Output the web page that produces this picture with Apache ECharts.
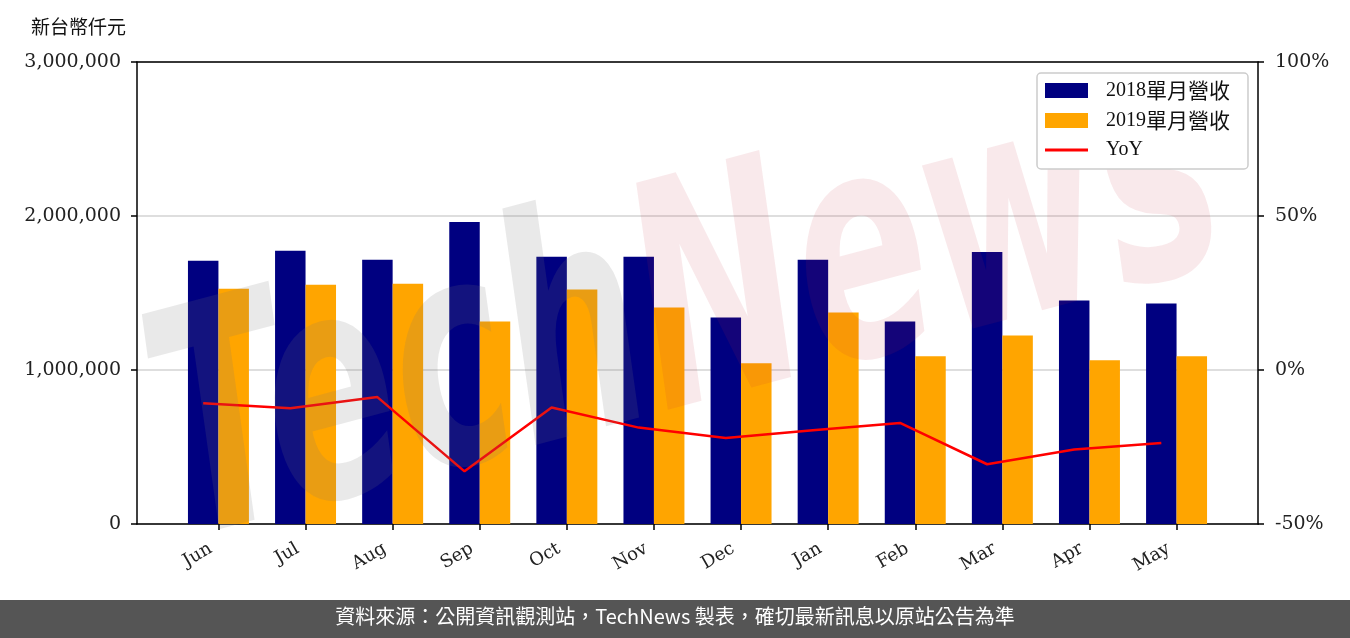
<!DOCTYPE html>
<html>
<head>
<meta charset="utf-8">
<script src="https://cdn.jsdelivr.net/npm/echarts@6/dist/echarts.min.js"></script>
<style>
html,body{margin:0;padding:0;background:#fff;}
#chart{width:1350px;height:638px;}
</style>
</head>
<body>
<div id="chart"></div>
<script>
// ---- data ----
var months = ['Jun','Jul','Aug','Sep','Oct','Nov','Dec','Jan','Feb','Mar','Apr','May'];
var rev2018 = [1709000, 1774000, 1716000, 1961000, 1735000, 1735000, 1341000, 1716000, 1315000, 1767000, 1451000, 1432000];
var rev2019 = [1528000, 1554000, 1560000, 1315000, 1522000, 1406000, 1044000, 1373000, 1089000, 1224000, 1063000, 1089000];
var yoy = [-10.8, -12.4, -8.8, -32.9, -12.2, -18.7, -22.1, -19.6, -17.2, -30.6, -25.8, -23.7];
var seriesNames = ['2018單月營收', '2019單月營收', 'YoY'];
var unitLabel = '新台幣仟元';
var footerText = '資料來源：公開資訊觀測站，TechNews 製表，確切最新訊息以原站公告為準';

var BW = 0.35;
var chart = echarts.init(document.getElementById('chart'), null, {renderer: 'canvas'});

function barRender(offset, color) {
  return function (params, api) {
    var x = api.value(0), v = api.value(1);
    var p0 = api.coord([x + offset - BW / 2, v]);
    var p1 = api.coord([x + offset + BW / 2, 0]);
    return {
      type: 'rect',
      shape: {x: p0[0], y: p0[1], width: p1[0] - p0[0], height: p1[1] - p0[1]},
      style: {fill: color}
    };
  };
}

var idx = months.map(function (m, i) { return i; });
var serif = 'DejaVu Serif';

var option = {
  animation: false,
  backgroundColor: '#fff',
  grid: {left: 137, right: 92, top: 62, bottom: 114, show: false},
  xAxis: [
    {
      type: 'value', min: -0.935, max: 11.935, position: 'bottom',
      axisLine: {show: true, onZero: false, lineStyle: {color: '#000', width: 1.5}},
      axisTick: {show: true, length: 6, lineStyle: {color: '#000', width: 1.5}, customValues: idx},
      axisLabel: {show: true, customValues: idx, rotate: 30, margin: 19, padding: [0, 9, 0, 0], color: '#222', fontFamily: serif, fontSize: 18,
        formatter: function (v) { return months[Math.round(v)]; }},
      splitLine: {show: false}
    },
    {
      type: 'value', min: -0.935, max: 11.935, position: 'top',
      axisLine: {show: true, onZero: false, lineStyle: {color: '#000', width: 1.5}},
      axisTick: {show: false}, axisLabel: {show: false}, splitLine: {show: false}
    }
  ],
  yAxis: [
    {
      type: 'value', min: 0, max: 3000000, interval: 1000000, position: 'left',
      axisLine: {show: true, onZero: false, lineStyle: {color: '#000', width: 1.5}},
      axisTick: {show: true, length: 6, lineStyle: {color: '#000', width: 1.5}},
      axisLabel: {margin: 16, color: '#222', fontFamily: serif, fontSize: 19,
        formatter: function (v) { return v.toString().replace(/\B(?=(\d{3})+(?!\d))/g, ','); }},
      splitLine: {show: true, lineStyle: {color: '#d3d3d3', width: 1.5}}
    },
    {
      type: 'value', min: -50, max: 100, interval: 50, position: 'right',
      axisLine: {show: true, onZero: false, lineStyle: {color: '#000', width: 1.5}},
      axisTick: {show: true, length: 6, lineStyle: {color: '#000', width: 1.5}},
      axisLabel: {margin: 17, color: '#222', fontFamily: serif, fontSize: 19,
        formatter: function (v) { return v + '%'; }},
      splitLine: {show: false}
    }
  ],
  legend: {
    orient: 'vertical', left: 1037, top: 73, z: 80,
    padding: [7, 18, 9, 8],
    itemWidth: 43, itemHeight: 15, itemGap: 9,
    backgroundColor: '#fff', borderColor: '#cccccc', borderWidth: 1.5, borderRadius: 4,
    formatter: function (name) {
      var m = name.match(/^(\d+)(.*)$/);
      if (m) return '{d|' + m[1] + '}{c|' + m[2] + '}';
      return '{d|' + name + '}';
    },
    textStyle: {
      padding: [0, 0, 0, 13], color: '#111',
      rich: {
        d: {fontFamily: 'Liberation Serif', fontSize: 20, color: '#111'},
        c: {fontFamily: 'Noto Sans CJK TC', fontSize: 21, color: '#111'}
      }
    },
    data: [
      {name: seriesNames[0], icon: 'rect'},
      {name: seriesNames[1], icon: 'rect'},
      {name: seriesNames[2], icon: 'path://M0,0 L0.01,0 M0,6 L43,6 L43,9 L0,9 Z M0,15 L0.01,15'}
    ]
  },
  series: [
    {
      name: seriesNames[0], type: 'custom', xAxisIndex: 0, yAxisIndex: 0,
      itemStyle: {color: '#000080'},
      renderItem: barRender(-BW / 2, '#000080'),
      encode: {x: 0, y: 1},
      data: rev2018.map(function (v, i) { return [i, v]; }),
      z: 2
    },
    {
      name: seriesNames[1], type: 'custom', xAxisIndex: 0, yAxisIndex: 0,
      itemStyle: {color: '#ffa500'},
      renderItem: barRender(BW / 2, '#ffa500'),
      encode: {x: 0, y: 1},
      data: rev2019.map(function (v, i) { return [i, v]; }),
      z: 2
    },
    {
      name: seriesNames[2], type: 'line', xAxisIndex: 0, yAxisIndex: 1,
      symbol: 'none', showSymbol: false,
      itemStyle: {color: '#ff0000'},
      lineStyle: {color: '#ff0000', width: 2.5},
      data: yoy.map(function (v, i) { return [i - BW / 2, v]; }),
      z: 3
    }
  ],
  graphic: [
    {
      type: 'group', x: 690, y: 320, rotation: 0.26, z: 50, silent: true,
      children: [{
        type: 'text', scaleY: 1.6, z: 50, silent: true,
        style: {
          text: '{a|Tech}{b|News}',
          x: 0, y: 0, align: 'center', verticalAlign: 'middle',
          rich: {
            a: {fontFamily: 'DejaVu Sans', fontStyle: 'italic', fontWeight: 'bold', fontSize: 195, fill: 'rgba(120,120,120,0.16)'},
            b: {fontFamily: 'DejaVu Sans', fontStyle: 'italic', fontWeight: 'bold', fontSize: 195, fill: 'rgba(200,40,60,0.1)'}
          }
        }
      }]
    },
    {
      type: 'text', left: 31, top: 17, z: 60,
      style: {text: unitLabel, fontFamily: '"Noto Sans CJK TC"', fontSize: 19, fill: '#111'}
    },
    {
      type: 'rect', left: 0, top: 600, z: 60,
      shape: {width: 1350, height: 38},
      style: {fill: '#555555'}
    },
    {
      type: 'text', left: 'center', top: 606, z: 61,
      style: {text: footerText, fontFamily: '"Noto Sans CJK TC"', fontSize: 20, fill: '#ffffff'}
    }
  ]
};
chart.setOption(option);
</script>
</body>
</html>
